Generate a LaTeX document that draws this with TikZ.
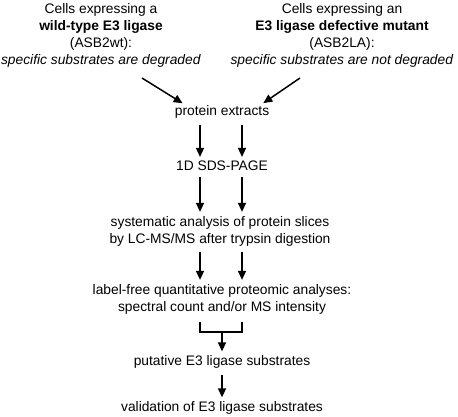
\documentclass[tikz,border=0pt]{standalone}
\usepackage{fontspec}
\setmainfont{Liberation Sans}
\usetikzlibrary{arrows.meta, positioning}

\tikzset{
	txt/.style={inner sep=0pt, align=center, font=\fontsize{13.8}{17}\selectfont},
	arr/.style={line width=1.5pt, -{Triangle[length=9pt,width=8pt]},
		shorten <=6pt, shorten >=4pt},
	brk/.style={line width=1.5pt}
}

\begin{document}
\begin{tikzpicture}[x=1pt, y=-1pt]
	\useasboundingbox (0,0) rectangle (458,416);
	% two cell lines
	\node[txt] (wt) at (101,35) {Cells expressing a\\ \textbf{wild-type E3 ligase}\\
		(ASB2wt):\\ \textit{specific substrates are degraded}};
	\node[txt] (la) at (342,35) {Cells expressing an\\ \textbf{E3 ligase defective mutant}\\
		(ASB2LA):\\ \textit{specific substrates are not degraded}};
	\node[txt] (ext) at (222,112) {protein extracts};
	\node[txt] (sds) at (222,166) {1D SDS-PAGE};
	\node[txt] (ms) at (220,231) {systematic analysis of protein slices\\
		by LC-MS/MS after trypsin digestion};
	\node[txt] (lab) at (222,299) {label-free quantitative proteomic analyses:\\
		spectral count and/or MS intensity};
	\node[txt] (put) at (222,362) {putative E3 ligase substrates};
	\node[txt] (val) at (222,408) {validation of E3 ligase substrates};
	\coordinate (L) at (200,0);
	\coordinate (R) at (242,0);
	\coordinate (J) at (222,332);
	\coordinate (a1) at (142,78);
	\coordinate (a2) at (300,78);
	% arrows
	\draw[arr, shorten <=0pt] (a1) -- ([xshift=-36pt]ext.north);
	\draw[arr, shorten <=0pt] (a2) -- ([xshift=38pt]ext.north);
	\foreach \s/\t in {ext/sds, sds/ms, ms/lab}{
		\draw[arr] (\s.south -| L) -- (\t.north -| L);
		\draw[arr] (\s.south -| R) -- (\t.north -| R);
	}
	\draw[brk] ([yshift=-8pt]lab.south -| L) |- (J) -| ([yshift=-8pt]lab.south -| R);
	\draw[arr, shorten <=0pt] (J) -- (put.north);
	\draw[arr] (put.south) -- (val.north);
\end{tikzpicture}
\end{document}
